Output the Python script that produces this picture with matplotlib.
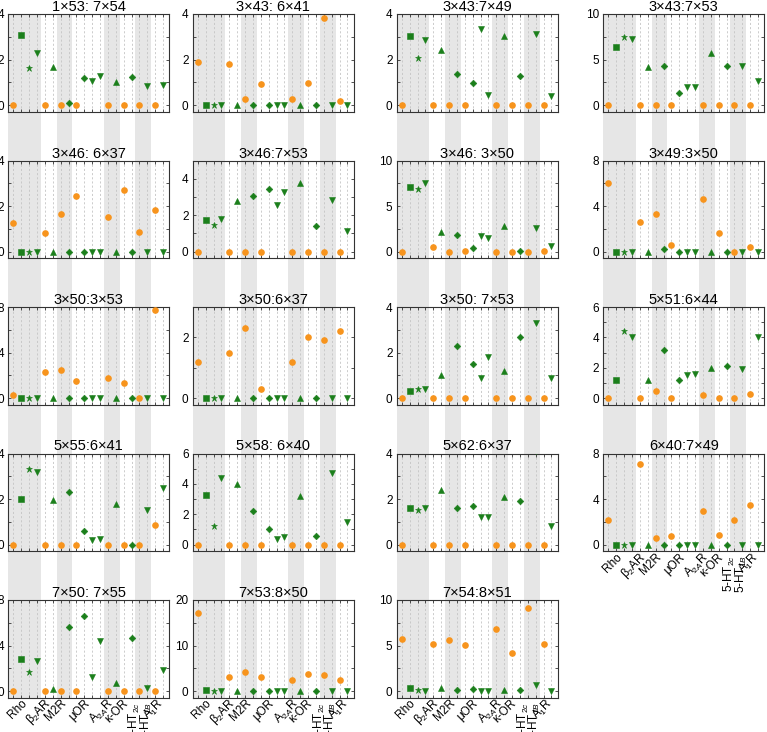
import matplotlib
matplotlib.use('Agg')
import matplotlib.pyplot as plt
import matplotlib.transforms as mtransforms
from matplotlib.patches import Rectangle

plt.rcParams['font.family'] = ['Liberation Sans', 'DejaVu Sans']
plt.rcParams['mathtext.fontset'] = 'custom'
plt.rcParams['mathtext.rm'] = 'Liberation Sans'
plt.rcParams['mathtext.it'] = 'Liberation Sans:italic'

# panel titles (row-major, 4 columns)
titles = ['1×53: 7×54', '3×43: 6×41', '3×43:7×49', '3×43:7×53',
          '3×46: 6×37', '3×46:7×53', '3×46: 3×50', '3×49:3×50',
          '3×50:3×53', '3×50:6×37', '3×50: 7×53', '5×51:6×44',
          '5×55:6×41', '5×58: 6×40', '5×62:6×37', '6×40:7×49',
          '7×50: 7×55', '7×53:8×50', '7×54:8×51']
ymax = [4, 4, 4, 10, 4, 5, 10, 8, 8, 3, 4, 6, 4, 6, 4, 8, 8, 20, 10]
ylabel_step = [2, 2, 2, 5, 2, 2, 5, 4, 4, 2, 2, 2, 2, 2, 2, 4, 4, 10, 5]

receptors = ['Rho', 'β$_2$AR', 'M2R', 'μOR', 'A$_{2A}$R', 'κ-OR',
             '5-HT$_{2c}$', '5-HT$_{1B}$', 'A$_1$R']
receptor_x = [1.5, 4.5, 6.5, 9.5, 12.5, 14.3, 15.4, 16.9, 18.9]

orange_x = [0, 4, 6, 8, 12, 14, 16, 18]
green_x = [1, 2, 3, 5, 7, 9, 10, 11, 13, 15, 17, 19]
green_marker = ['s', '*', 'v', '^', 'D', 'D', 'v', 'v', '^', 'D', 'v', 'v']

orange_vals = [
    [0, 0, 0, 0, 0, 0, 0, 0],
    [1.88, 1.82, 0.26, 0.91, 0.29, 0.95, 3.84, 0.18],
    [0, 0, 0, 0, 0, 0, 0, 0],
    [0, 0, 0, 0, 0, 0, 0, 0],
    [1.25, 0.8, 1.66, 2.44, 1.53, 2.7, 0.84, 1.82],
    [0, 0, 0, 0, 0, 0, 0, 0],
    [0, 0.5, 0, 0.1, 0, 0, 0, 0.1],
    [6.0, 2.6, 3.3, 0.6, 4.6, 1.6, 0, 0.4],
    [0.3, 2.3, 2.5, 1.5, 1.75, 1.3, 0, 7.7],
    [1.2, 1.5, 2.3, 0.3, 1.2, 2.0, 1.9, 2.2],
    [0, 0, 0, 0, 0, 0, 0, 0],
    [0, 0, 0.5, 0, 0.2, 0, 0, 0.3],
    [0, 0, 0, 0, 0, 0, 0, 0.85],
    [0, 0, 0, 0, 0, 0, 0, 0],
    [0, 0, 0, 0, 0, 0, 0, 0],
    [2.17, 7.1, 0.62, 0.73, 2.99, 0.85, 2.17, 3.46],
    [0, 0, 0, 0, 0, 0, 0, 0],
    [17.2, 3.0, 4.3, 3.0, 2.4, 3.8, 3.6, 2.5],
    [5.75, 5.16, 5.56, 5.02, 6.87, 4.22, 9.16, 5.16],
]
green_vals = [
    [3.09, 1.64, 2.27, 1.66, 0.09, 1.19, 1.08, 1.26, 1.0, 1.23, 0.82, 0.88],
    [0, 0, 0, 0, 0, 0, 0, 0, 0, 0, 0, 0],
    [3.05, 2.07, 2.86, 2.4, 1.36, 0.97, 3.34, 0.44, 3.03, 1.27, 3.12, 0.4],
    [6.37, 7.5, 7.3, 4.14, 4.32, 1.36, 1.94, 2.0, 5.68, 4.29, 4.32, 2.67],
    [0, 0, 0, 0, 0, 0, 0, 0, 0, 0, 0, 0],
    [1.72, 1.45, 1.8, 2.79, 3.05, 3.43, 2.57, 3.27, 3.74, 1.38, 2.84, 1.12],
    [7.1, 6.9, 7.5, 2.15, 1.8, 0.4, 1.7, 1.5, 2.8, 0.05, 2.6, 0.6],
    [0, 0, 0, 0, 0.2, 0, 0, 0, 0, 0, 0, 0],
    [0, 0, 0, 0, 0, 0, 0, 0, 0, 0, 0, 0],
    [0, 0, 0, 0, 0, 0, 0, 0, 0, 0, 0, 0],
    [0.3, 0.4, 0.4, 1.0, 2.3, 1.5, 0.9, 1.8, 1.2, 2.7, 3.3, 0.9],
    [1.2, 4.4, 4.0, 1.2, 3.2, 1.2, 1.5, 1.6, 2.0, 2.1, 1.9, 4.0],
    [2.0, 3.3, 3.2, 1.96, 2.3, 0.6, 0.2, 0.25, 1.8, 0.0, 1.5, 2.5],
    [3.3, 1.2, 4.4, 4.0, 2.2, 1.0, 0.4, 0.5, 3.2, 0.6, 4.7, 1.5],
    [1.6, 1.5, 1.6, 2.4, 1.6, 1.7, 1.2, 1.2, 2.1, 1.9, 4.1, 0.8],
    [0, 0, 0, 0, 0, 0, 0, 0, 0, 0, 0, 0],
    [2.79, 1.69, 2.67, 0.23, 5.67, 6.57, 1.28, 4.36, 0.67, 4.68, 0.26, 1.86],
    [0.2, 0, 0, 0, 0, 0, 0, 0, 0, 0, 0, 0],
    [0.29, 0.07, 0.04, 0.3, 0.07, 0.25, 0.04, 0.04, 0.07, 0.1, 0.65, 0.0],
]

ORANGE = '#f7941d'
GREEN = '#1b7f1b'
BAND = '#e6e6e6'
W, H = 767, 732
col_left = [8.3, 192.7, 396.7, 603.3]
ax_w, ax_h = 161, 97.5
row_top = [14 + 146.5 * r for r in range(5)]
XL = (-0.65, 19.8)
bands = [(XL[0], 3.5), (5.5, 7.5), (11.5, 13.5), (15.5, 17.5)]

fig = plt.figure(figsize=(W / 100, H / 100), dpi=100)
axes = []
for i, title in enumerate(titles):
    r, c = divmod(i, 4)
    ax = fig.add_axes([col_left[c] / W, 1 - (row_top[r] + ax_h) / H, ax_w / W, ax_h / H])
    ax.patch.set_facecolor('none')
    ax.set_xlim(*XL)
    ax.set_ylim(-0.07 * ymax[i], ymax[i])

    ax.plot(orange_x, orange_vals[i], 'o', color=ORANGE, ms=4.8, mec='none', zorder=3)
    for x, y, m in zip(green_x, green_vals[i], green_marker):
        ms = {'s': 4.6, '*': 5.0, 'v': 4.4, '^': 4.4, 'D': 3.4}[m]
        ax.plot(x, y, m, color=GREEN, ms=ms, mec=GREEN, mew=0.4, zorder=3)

    ax.set_title(title, fontsize=10.5, pad=2)
    ax.set_xticks(range(20), minor=True)
    ax.grid(which='minor', axis='x', ls=(0, (2.5, 2.5)), color='#c4c4c4', lw=0.6)
    step = ylabel_step[i]
    yt = [k * step / 2 for k in range(int(round(2 * ymax[i] / step)) + 1)]
    ax.set_yticks(yt)
    ax.set_yticklabels(['%g' % v if abs(v / step - round(v / step)) < 1e-6 else '' for v in yt])
    ax.tick_params(which='both', direction='in', top=True, right=True, labelsize=8.5,
                   length=2.2, width=0.6, color='#333333', pad=2)
    ax.tick_params(axis='y', pad=3)
    for s in ax.spines.values():
        s.set_linewidth(0.8)
        s.set_color('#333333')
    if i >= 15:
        ax.set_xticks(receptor_x)
        ax.set_xticklabels(receptors, fontsize=8.5)
        ax.tick_params(axis='x', which='major', length=0, pad=3)
        for lab in ax.get_xticklabels():
            rot = 90 if 'HT' in lab.get_text() else 45
            lab.set_rotation(rot)
            lab.set_rotation_mode('anchor')
            lab.set_ha('right')
            lab.set_va('center')
    else:
        ax.set_xticks([])
    axes.append(ax)

# shaded receptor bands run through each whole column of panels
for c in range(4):
    col_axes = [axes[i] for i in range(len(axes)) if i % 4 == c]
    y0 = 1 - (row_top[len(col_axes) - 1] + ax_h) / H
    y1 = 1 - row_top[0] / H
    tr = mtransforms.blended_transform_factory(col_axes[0].transData, fig.transFigure)
    for a, b in bands:
        fig.add_artist(Rectangle((a, y0), b - a, y1 - y0, transform=tr,
                                 facecolor=BAND, edgecolor='none', zorder=-1))

fig.savefig('out.png', dpi=100)
